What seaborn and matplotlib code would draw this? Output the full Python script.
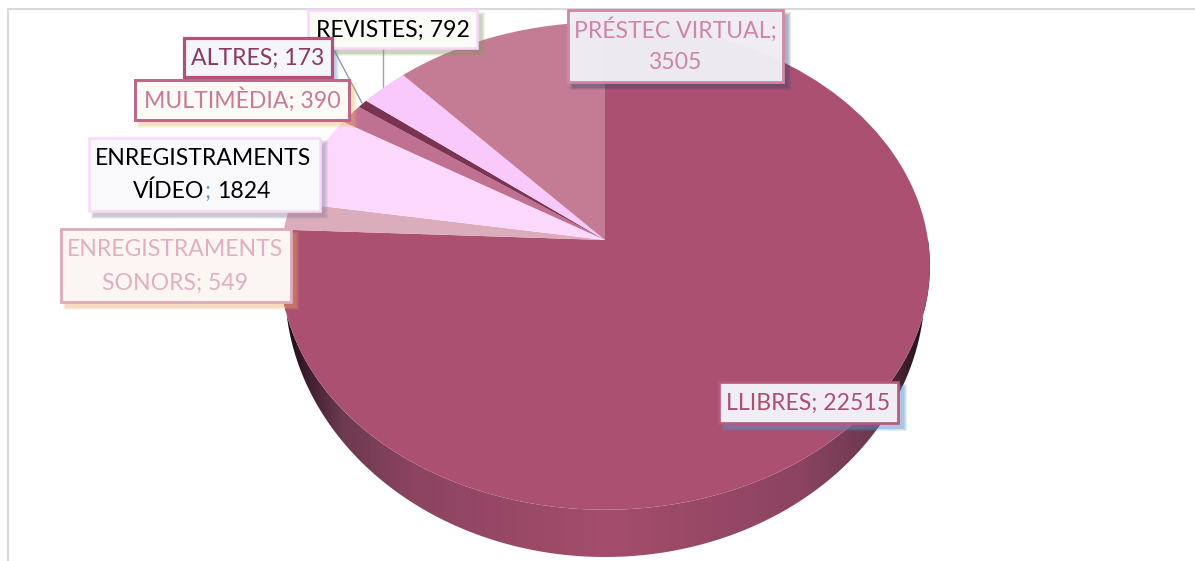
import numpy as np
import matplotlib
matplotlib.use('Agg')
import matplotlib.pyplot as plt
import seaborn as sns
from matplotlib.colors import LinearSegmentedColormap
from matplotlib.patches import Polygon, Rectangle
from matplotlib.transforms import Transform

categories = ['LLIBRES', 'ENREGISTRAMENTS SONORS', 'ENREGISTRAMENTS VÍDEO', 'MULTIMÈDIA',
              'ALTRES', 'REVISTES', 'PRÉSTEC VIRTUAL']
values = [22515, 549, 1824, 390, 173, 792, 3505]
slice_colors = ['#AC5071', '#DBACBB', '#FCD9FC', '#C07090', '#7A3350', '#F8C9FA', '#C47C95']

sns.set_theme(style='white')
plt.rcParams['font.family'] = ['Lato', 'DejaVu Sans']


# tilted pie: unit circle -> picture pixels, with perspective
class TiltedPie(Transform):
    input_dims = 2
    output_dims = 2

    def __init__(self, cx=605, cy=240, a=323, b=241, k=0.1065, drop=0):
        super().__init__()
        self.cx, self.cy, self.a, self.b, self.k, self.drop = cx, cy, a, b, k, drop

    def transform_non_affine(self, xy):
        xy = np.asarray(xy, dtype=float)
        w = 1 + self.k * xy[:, 1]
        return np.column_stack([self.cx + self.a * xy[:, 0] / w,
                                self.cy + self.drop - self.b * xy[:, 1] / w])


fig = plt.figure(figsize=(11.95, 5.61), dpi=100)
ax = fig.add_axes([0, 0, 1, 1])
top = TiltedPie()
wall = TiltedPie(a=320, b=270, k=0, drop=47)

# side wall first
t = np.radians(np.linspace(-186, 6, 300))
circle = np.column_stack([np.cos(t), np.sin(t)])
outline = np.vstack([top.transform_non_affine(circle), wall.transform_non_affine(circle)[::-1]])
shade = LinearSegmentedColormap.from_list('wall', [(0, '#160810'), (0.03, '#3a1c2b'), (0.09, '#6e3a50'),
                                                   (0.2, '#8c4460'), (0.5, '#a44d6c'), (0.8, '#8c4460'),
                                                   (0.91, '#6e3a50'), (0.97, '#3a1c2b'), (1, '#160810')])
img = ax.imshow(np.linspace(0, 1, 300).reshape(1, -1), cmap=shade, aspect='auto',
                extent=[283, 930, 561, 240], zorder=1)
img.set_clip_path(Polygon(outline, transform=ax.transData))

wedges, _ = ax.pie(values, colors=sns.color_palette(slice_colors), startangle=90, counterclock=False,
                   wedgeprops={'transform': top + ax.transData, 'linewidth': 0, 'zorder': 2})
for w in wedges:
    w.set_zorder(2)

ax.set_aspect('auto')
ax.set_xlim(0, 1195)
ax.set_ylim(561, 0)
ax.set_xticks([])
ax.set_yticks([])
ax.set_frame_on(False)

# outer frame
ax.plot([8.5, 8.5, 1195], [561, 8.5, 8.5], color='#D9D9D9', lw=1.5, zorder=1.5)

# leader lines
ax.plot([334, 362], [50, 103], color='#8C9AA8', lw=1, zorder=1.5)
ax.plot([383.5, 383.5], [48, 87], color='#A0A0A0', lw=1, zorder=1.5)


def label_box(x0, y0, x1, y1, face, edge, lw, shadow, dx, dy, face_alpha=1.0, shadow_alpha=0.12):
    # soft shadow from a few stacked rectangles
    for grow in [6, 4, 2.5, 1]:
        ax.add_patch(Rectangle((x0 + dx - grow * 0.5, y0 + dy - grow * 0.5), x1 - x0 + grow, y1 - y0 + grow,
                               facecolor=shadow, edgecolor='none', alpha=shadow_alpha, zorder=3))
    ax.add_patch(Rectangle((x0, y0), x1 - x0, y1 - y0, facecolor=matplotlib.colors.to_rgba(face, face_alpha),
                           edgecolor=edge, lw=lw, zorder=4))


fs = 16.6
labels = [f'{c}; {v}' for c, v in zip(categories, values)]

# REVISTES
label_box(308, 10, 477, 48, '#FAFBF7', '#FBD6FB', 1.8, '#7F9A5E', 5, 5)
ax.text(392.5, 30, labels[5], color='black', fontsize=fs, ha='center', va='center', zorder=5)

# ALTRES
label_box(184, 38, 332, 77, '#F5F6FA', '#B0527A', 2.3, '#6F8FC8', 4, 4)
ax.text(258, 58, labels[4], color='#8B3A5E', fontsize=fs, ha='center', va='center', zorder=5)

# MULTIMEDIA
label_box(135, 80, 349, 120, '#FBFAF5', '#BE6485', 2.1, '#E5BE70', 5, 5)
ax.text(242, 100, labels[3], color='#C97A9A', fontsize=fs, ha='center', va='center', zorder=5)

# VIDEO, the semicolon is blue in the original
label_box(89, 138, 320, 211, '#F9F9FB', '#FBD8FB', 1.8, '#80808F', 5, 5)
ax.text(203.5, 158, 'ENREGISTRAMENTS', color='black', fontsize=fs, ha='center', va='center', zorder=5)
ax.text(204, 191.5, 'VÍDEO', color='black', fontsize=fs, ha='right', va='center', zorder=5)
ax.text(204.5, 191.5, ';', color='#5B9BD5', fontsize=fs, ha='left', va='center', zorder=5)
ax.text(217, 191.5, str(values[2]), color='black', fontsize=fs, ha='left', va='center', zorder=5)

# SONORS
label_box(61, 229, 291, 302, '#FCF6F3', '#DFA9BC', 2, '#F0A868', 5, 5)
ax.text(175.5, 249.5, 'ENREGISTRAMENTS', color='#E2AFC2', fontsize=fs, ha='center', va='center', zorder=5)
ax.text(175.5, 283, f'SONORS; {values[1]}', color='#E2AFC2', fontsize=fs, ha='center', va='center', zorder=5)

# PRESTEC
label_box(568, 10, 783, 82, '#F2F0F4', '#CC88A4', 2, '#2F4470', 5, 5, face_alpha=0.97)
ax.text(675, 30, 'PRÉSTEC VIRTUAL;', color='#CE86A2', fontsize=fs, ha='center', va='center', zorder=5)
ax.text(675, 62, str(values[6]), color='#CE86A2', fontsize=fs, ha='center', va='center', zorder=5)

# LLIBRES
label_box(719, 382, 898, 423, '#F0EEF2', '#B45A7A', 1.9, '#5F8FCC', 6, 5, shadow_alpha=0.16)
ax.text(808, 403, labels[0], color='#AC4F70', fontsize=fs, ha='center', va='center', zorder=5)

fig.savefig('out.png', dpi=100, facecolor='white')
